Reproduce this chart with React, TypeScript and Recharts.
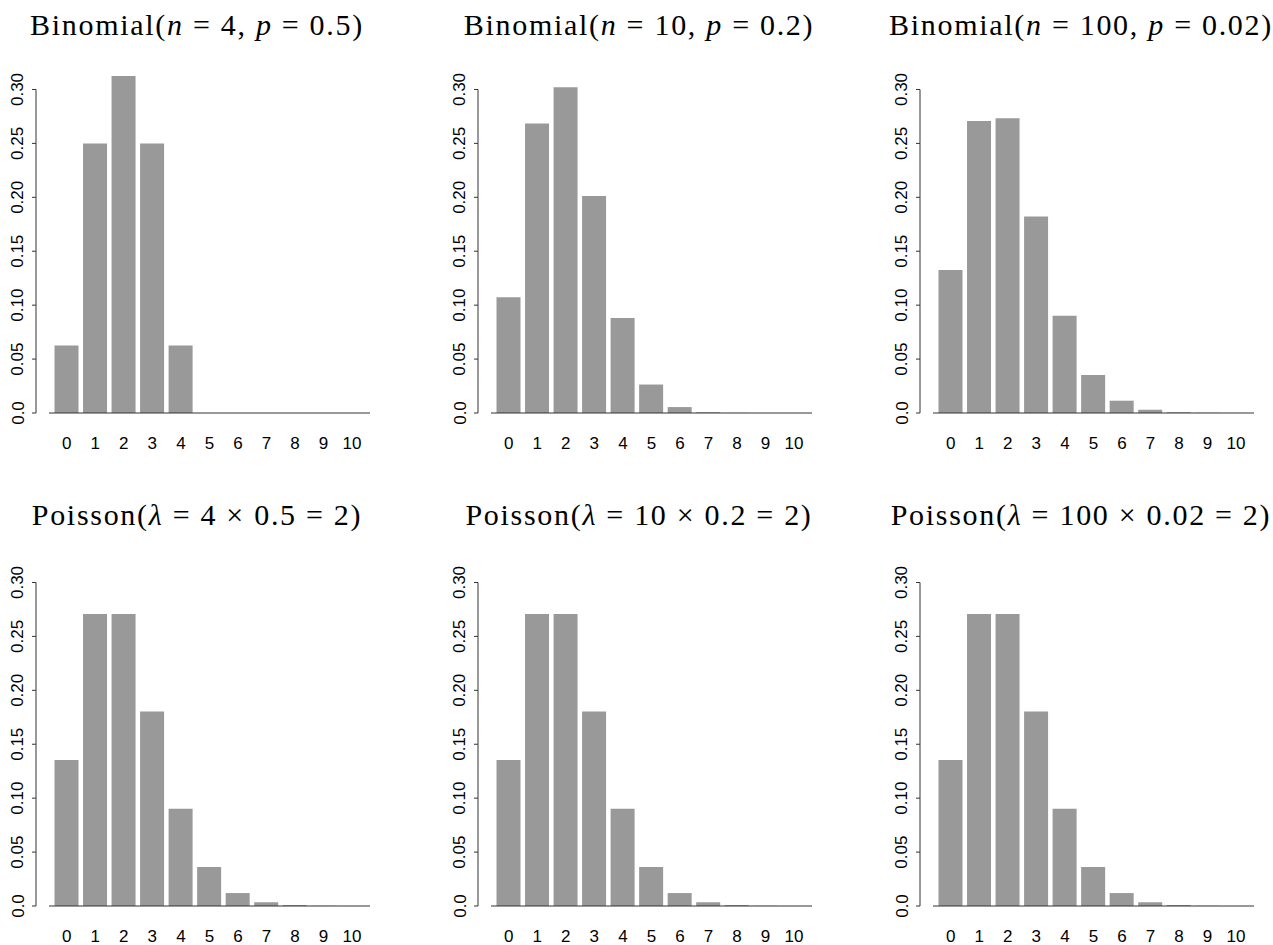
import React from 'react';
import { BarChart, Bar, XAxis, YAxis } from 'recharts';

// outcomes 0..10
const outcomes = ['0', '1', '2', '3', '4', '5', '6', '7', '8', '9', '10'];

// probabilities
const binomN4 = [0.0625, 0.25, 0.375, 0.25, 0.0625, 0, 0, 0, 0, 0, 0];
const binomN10 = [0.1074, 0.2684, 0.302, 0.2013, 0.0881, 0.0264, 0.0055, 0.0008, 0.0001, 0.00001, 0];
const binomN100 = [0.1326, 0.2707, 0.2734, 0.1823, 0.0902, 0.0353, 0.0114, 0.0031, 0.0007, 0.0002, 0.00003];
const poisson4 = [0.1353, 0.2707, 0.2707, 0.1804, 0.0902, 0.0361, 0.012, 0.0034, 0.0009, 0.0002, 0.00004];
const poisson10 = [0.1353, 0.2707, 0.2707, 0.1804, 0.0902, 0.0361, 0.012, 0.0034, 0.0009, 0.0002, 0.00004];
const poisson100 = [0.1353, 0.2707, 0.2707, 0.1804, 0.0902, 0.0361, 0.012, 0.0034, 0.0009, 0.0002, 0.00004];

const yTicks = [0, 0.05, 0.1, 0.15, 0.2, 0.25, 0.3];
const yTickLabels = ['0.0', '0.05', '0.10', '0.15', '0.20', '0.25', '0.30'];

// title pieces: [text, italic]
type Piece = [string, boolean];
const titles: Piece[][] = [
  [['Binomial(', false], ['n', true], [' = 4, ', false], ['p', true], [' = 0.5)', false]],
  [['Binomial(', false], ['n', true], [' = 10, ', false], ['p', true], [' = 0.2)', false]],
  [['Binomial(', false], ['n', true], [' = 100, ', false], ['p', true], [' = 0.02)', false]],
  [['Poisson(', false], ['λ', true], [' = 4 × 0.5 = 2)', false]],
  [['Poisson(', false], ['λ', true], [' = 10 × 0.2 = 2)', false]],
  [['Poisson(', false], ['λ', true], [' = 100 × 0.02 = 2)', false]],
];
const series = [binomN4, binomN10, binomN100, poisson4, poisson10, poisson100];

const YMAX = 0.3125;
const PLOT_H = 337;
const STEP = (PLOT_H * 0.05) / YMAX;
const COL_W = 442;
const ROW_H = 493;
const TICK_FONT = '"Liberation Sans", Arial, sans-serif';
const TITLE_FONT = '"Liberation Serif", "Times New Roman", serif';
const AXIS_COLOR = '#333';

const YTick = (props: any) => {
  const { x, y, index } = props;
  const ax = x - 13;
  return (
    <g>
      <line x1={ax - 4} y1={y} x2={ax} y2={y} stroke={AXIS_COLOR} />
      {index < yTicks.length - 1 && (
        <line x1={ax} y1={y} x2={ax} y2={y - STEP} stroke={AXIS_COLOR} />
      )}
      <text
        x={x - 31}
        y={y}
        transform={`rotate(-90 ${x - 31} ${y})`}
        textAnchor="middle"
        dominantBaseline="central"
        fontSize={17}
        fontFamily={TICK_FONT}
        fill="#000"
      >
        {yTickLabels[index]}
      </text>
    </g>
  );
};

const Panel: React.FC<{ values: number[] }> = ({ values }) => {
  const data = outcomes.map((k, i) => ({ k, p: values[i] }));
  return (
    <BarChart
      width={375}
      height={452}
      data={data}
      margin={{ top: 76, right: 5, bottom: 0, left: 0 }}
      barSize={24}
    >
      <XAxis
        dataKey="k"
        height={39}
        padding={{ left: 3.5, right: 3.7 }}
        interval={0}
        tickLine={false}
        tickSize={0}
        tickMargin={24}
        axisLine={{ stroke: AXIS_COLOR }}
        tick={{ fontSize: 17, fill: '#000', fontFamily: TICK_FONT }}
      />
      <YAxis
        type="number"
        domain={[0, YMAX]}
        allowDataOverflow
        ticks={yTicks}
        interval={0}
        width={49}
        axisLine={false}
        tickLine={false}
        tickSize={0}
        tickMargin={0}
        tick={<YTick />}
      />
      <Bar dataKey="p" fill="#999999" isAnimationActive={false} />
    </BarChart>
  );
};

export default function App() {
  return (
    <div
      style={{
        position: 'absolute',
        left: 0,
        top: 0,
        width: 1273,
        height: 945,
        overflow: 'hidden',
        background: '#fff',
      }}
    >
      {series.map((values, i) => (
        <div
          key={i}
          style={{
            position: 'absolute',
            left: (i % 3) * COL_W,
            top: Math.floor(i / 3) * ROW_H,
          }}
        >
          <Panel values={values} />
        </div>
      ))}
      <svg width={1273} height={945} style={{ position: 'absolute', left: 0, top: 0, pointerEvents: 'none' }}>
        {titles.map((pieces, i) => (
          <text
            key={i}
            x={197 + (i % 3) * COL_W}
            y={i < 3 ? 34.5 : 525}
            textAnchor="middle"
            fontSize={30}
            fontFamily={TITLE_FONT}
            letterSpacing={1.7}
            fill="#000"
          >
            {pieces.map(([t, it], j) => (
              <tspan key={j} fontStyle={it ? 'italic' : 'normal'} xmlSpace="preserve">
                {t}
              </tspan>
            ))}
          </text>
        ))}
      </svg>
    </div>
  );
}
